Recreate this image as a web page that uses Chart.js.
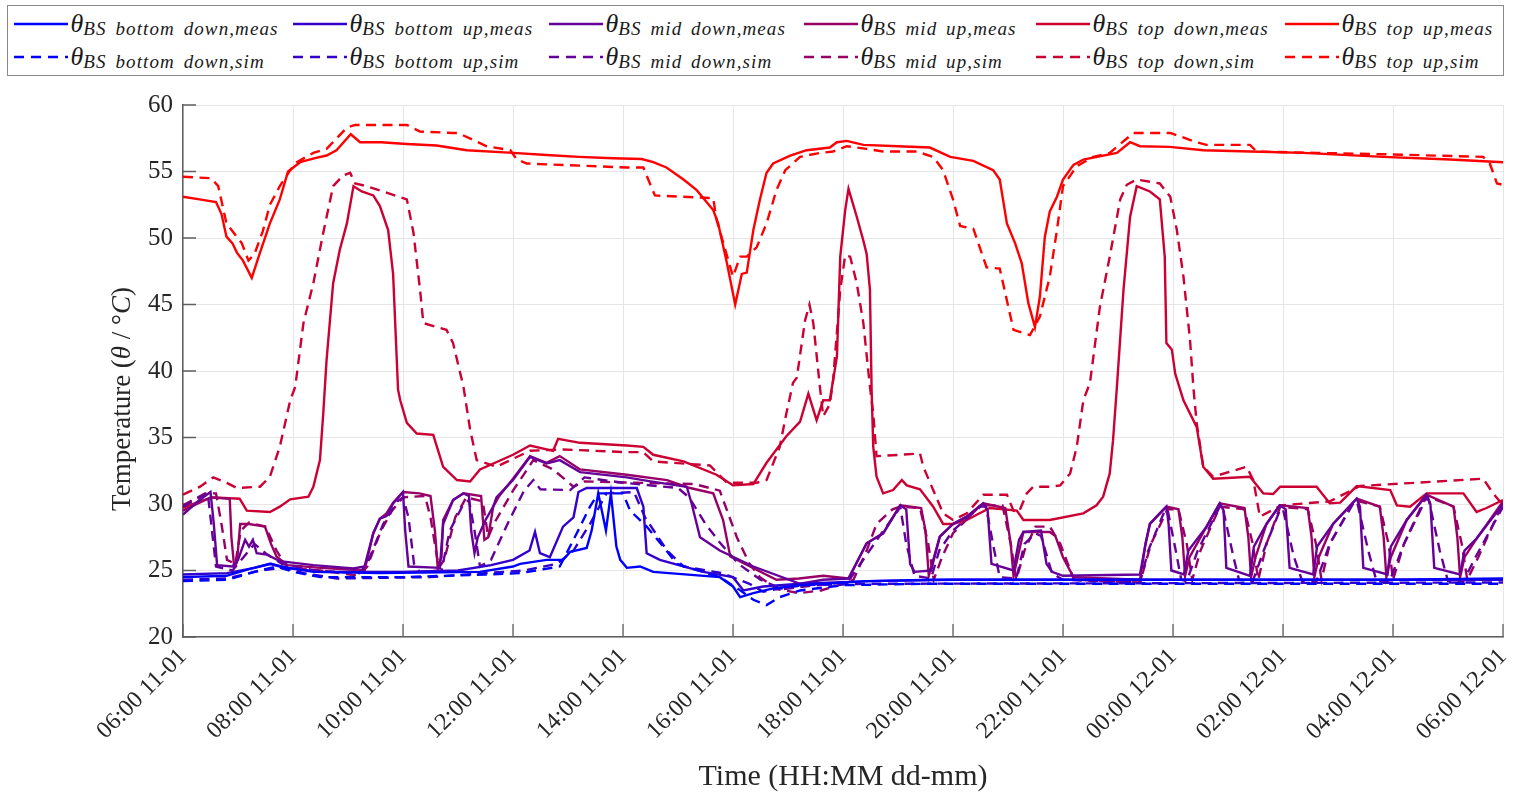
<!DOCTYPE html>
<html>
<head>
<meta charset="utf-8">
<script src="https://cdn.jsdelivr.net/npm/chart.js@4.4.0/dist/chart.umd.min.js"></script>
<style>
  html, body { margin: 0; padding: 0; background: #fff; }
  #wrap { position: relative; width: 1521px; height: 795px; overflow: hidden; }
  #chart { position: absolute; left: 0; top: 0; }
  #legend { position: absolute; left: 7px; top: 5px; width: 1497px; height: 71px; border: 1.5px solid #8a8a8a; box-sizing: border-box; background: #fff; }
  .item { position: absolute; display: flex; align-items: center; height: 30px; font-family: "Liberation Serif", serif; font-style: italic; white-space: nowrap; color: #1a1a1a; }
  .item svg { margin-right: 3px; }
  .th { font-size: 26px; }
  .sub { font-size: 19px; position: relative; top: 5px; letter-spacing: 1.1px; word-spacing: 3px; }
</style>
</head>
<body>
<div id="wrap">
  <canvas id="chart" width="1521" height="795"></canvas>
  <div id="legend"></div>
</div>
<script>
// hours after 06:00 11-01, temperatures in °C
const xLabels = ["06:00 11-01","08:00 11-01","10:00 11-01","12:00 11-01","14:00 11-01","16:00 11-01",
  "18:00 11-01","20:00 11-01","22:00 11-01","00:00 12-01","02:00 12-01","04:00 12-01","06:00 12-01"];
const yTicks = [20, 25, 30, 35, 40, 45, 50, 55, 60];

const bottomDownMeas = [[0,24.5],[0.79,24.6],[1.2,25.1],[1.58,25.5],[1.76,25.3],[2.37,24.9],[3.58,24.8],[5.4,24.9],[6.0,25.3],[6.13,25.5],[6.61,25.8],[6.91,25.8],[7.04,26.4],[7.34,26.7],[7.43,28.0],[7.55,30.8],[7.69,28.0],[7.78,30.8],[7.88,26.8],[7.95,25.8],[8.07,25.2],[8.31,25.3],[8.55,24.9],[9.76,24.5],[10.0,23.8],[10.13,23.0],[10.37,23.3],[10.73,23.65],[11.22,23.9],[12.43,24.2],[13.64,24.3],[15.76,24.3],[18,24.3],[20,24.3],[22,24.3],[24,24.4]];
const bottomUpMeas = [[0,24.7],[0.8,24.8],[1.3,25.2],[1.6,25.5],[1.9,25.2],[2.5,24.9],[4.0,24.9],[5.0,25.0],[5.6,25.4],[6.0,25.8],[6.3,26.5],[6.4,27.9],[6.49,26.3],[6.67,26.0],[6.91,28.3],[7.1,29.0],[7.19,30.9],[7.34,31.2],[8.25,31.2],[8.37,29.8],[8.43,26.3],[8.67,25.8],[9.46,24.9],[10.0,24.5],[10.19,23.5],[10.55,23.8],[11.22,24.0],[12.5,24.2],[14.0,24.3],[24,24.3]];
const midDownMeas = [[0,29.2],[0.3,30.3],[0.5,30.9],[0.56,28.5],[0.62,25.4],[0.9,25.3],[1.0,25.8],[1.13,27.3],[1.2,26.8],[1.27,27.3],[1.34,26.3],[1.52,26.2],[1.76,25.7],[2.37,25.4],[3.1,25.15],[3.3,25.3],[3.46,27.8],[3.58,28.9],[3.7,29.1],[3.82,30.05],[4.0,30.9],[4.04,28.0],[4.1,25.3],[4.67,25.2],[4.73,28.5],[4.91,30.3],[5.1,30.8],[5.2,30.6],[5.24,28.0],[5.3,26.3],[5.36,27.5],[5.5,28.8],[5.64,29.8],[5.7,30.5],[6.0,31.8],[6.31,33.55],[6.61,33.05],[6.85,33.3],[7.22,32.4],[8.07,32.0],[8.5,31.7],[9.16,31.3],[9.25,30.0],[9.4,27.5],[9.76,26.5],[10.37,25.3],[11.22,24.0],[11.64,24.3],[12.1,24.4],[12.43,27.05],[12.73,27.8],[13.04,29.9],[13.15,29.6],[13.22,25.5],[13.3,24.9],[13.6,25.0],[13.76,27.55],[14.0,28.5],[14.25,29.05],[14.55,30.05],[14.63,29.5],[14.7,25.5],[15.1,25.0],[15.2,27.3],[15.28,27.9],[15.6,28.0],[15.7,25.5],[15.8,24.9],[16.0,24.6],[17.4,24.7],[17.5,27.0],[17.58,28.5],[17.76,29.3],[17.88,29.8],[17.92,28.5],[17.97,25.0],[18.2,24.7],[18.28,26.5],[18.61,28.3],[18.85,30.05],[18.92,29.5],[18.97,25.2],[19.4,24.6],[19.47,26.8],[19.7,28.5],[19.94,29.9],[20.05,29.6],[20.12,25.2],[20.55,24.7],[20.62,26.8],[20.91,28.5],[21.34,30.4],[21.4,29.8],[21.46,25.2],[21.9,24.7],[21.96,26.8],[22.25,28.8],[22.61,30.7],[22.68,30.0],[22.75,25.2],[23.22,24.7],[23.3,26.5],[23.52,27.4],[24,30.0]];
const midUpMeas = [[0,29.5],[0.3,30.1],[0.5,30.5],[0.85,30.4],[0.88,27.5],[0.93,25.3],[0.98,25.6],[1.04,28.5],[1.2,28.5],[1.49,28.3],[1.6,27.0],[1.7,26.05],[1.9,25.4],[2.5,25.2],[3.3,25.0],[3.46,27.8],[3.58,28.9],[3.7,29.3],[3.82,30.1],[4.0,30.9],[4.3,30.8],[4.5,30.6],[4.58,28.0],[4.63,25.3],[4.7,26.0],[4.73,28.8],[4.91,30.3],[5.1,30.8],[5.42,30.6],[5.48,27.3],[5.55,27.5],[5.64,29.8],[5.75,30.6],[6.0,31.9],[6.31,33.6],[6.61,33.1],[6.85,33.6],[7.22,32.6],[8.07,32.2],[8.8,31.8],[9.22,31.2],[9.64,30.8],[9.82,28.8],[9.95,26.05],[10.31,25.3],[10.79,24.3],[11.2,24.4],[11.64,24.6],[12.1,24.4],[12.43,27.05],[12.73,27.8],[13.04,29.9],[13.42,29.7],[13.5,28.0],[13.56,24.6],[13.6,25.2],[13.76,27.55],[14.0,28.5],[14.25,29.05],[14.55,30.05],[14.95,29.7],[15.05,27.0],[15.1,24.6],[15.15,25.5],[15.28,27.9],[15.76,27.9],[15.86,27.6],[16.0,26.0],[16.19,24.5],[17.4,24.3],[17.5,27.0],[17.58,28.5],[17.76,29.3],[17.88,29.8],[18.1,29.6],[18.17,27.5],[18.22,24.6],[18.3,26.0],[18.61,28.3],[18.85,30.05],[19.3,29.7],[19.37,27.5],[19.42,24.5],[19.5,26.0],[19.7,28.5],[19.94,29.9],[20.45,29.7],[20.52,27.5],[20.57,24.5],[20.65,26.0],[20.91,28.5],[21.34,30.4],[21.76,29.8],[21.83,27.5],[21.88,24.5],[21.96,26.0],[22.25,28.8],[22.61,30.7],[23.1,29.8],[23.17,27.5],[23.22,24.5],[23.3,26.0],[23.52,27.4],[24,30.2]];
const topDownMeas = [[0,29.7],[0.3,30.2],[0.55,30.5],[1.03,30.4],[1.16,29.5],[1.58,29.4],[1.76,29.8],[1.95,30.35],[2.28,30.55],[2.37,31.3],[2.49,33.3],[2.55,36.8],[2.61,40.8],[2.73,46.6],[2.85,49.1],[2.98,51.1],[3.1,53.9],[3.25,53.5],[3.46,53.2],[3.58,52.4],[3.73,50.6],[3.82,47.3],[3.91,38.6],[3.95,37.8],[4.07,36.1],[4.25,35.3],[4.55,35.2],[4.73,32.8],[4.98,31.8],[5.22,31.7],[5.4,32.6],[6.0,33.7],[6.31,34.4],[6.73,34.0],[6.82,34.9],[7.22,34.6],[8.07,34.4],[8.37,34.3],[8.55,33.7],[9.1,33.2],[9.7,32.2],[10.0,31.4],[10.37,31.5],[10.61,33.1],[10.97,35.1],[11.22,36.2],[11.37,38.3],[11.52,36.3],[11.64,37.8],[11.76,37.8],[11.82,39.3],[11.89,41.1],[11.95,48.6],[12.04,52.1],[12.1,53.7],[12.25,51.6],[12.37,49.8],[12.43,48.8],[12.49,46.1],[12.52,38.6],[12.55,34.3],[12.61,32.05],[12.73,30.8],[12.91,31.05],[13.07,31.8],[13.16,31.4],[13.4,31.1],[13.64,29.8],[13.82,28.5],[14.0,28.5],[14.25,28.8],[14.67,29.7],[15.16,29.5],[15.28,28.8],[15.76,28.8],[16.37,29.3],[16.61,29.9],[16.73,30.55],[16.85,32.3],[16.91,34.8],[16.98,38.8],[17.1,46.1],[17.22,51.6],[17.34,53.9],[17.58,53.5],[17.76,52.9],[17.85,48.6],[17.88,42.1],[17.98,41.6],[18.04,39.8],[18.19,37.8],[18.43,35.8],[18.55,32.8],[18.73,31.9],[19.4,32.05],[19.64,30.8],[19.82,30.75],[19.95,31.3],[20.61,31.3],[20.85,30.05],[21.04,30.1],[21.34,31.35],[21.95,31.05],[22.07,29.9],[22.31,29.8],[22.61,30.8],[23.28,30.8],[23.52,29.4],[23.7,29.7],[24,30.3]];
const topUpMeas = [[0,53.1],[0.3,52.9],[0.6,52.7],[0.7,51.8],[0.79,50.1],[0.9,49.6],[0.98,48.9],[1.09,48.3],[1.25,47.0],[1.4,48.9],[1.58,51.1],[1.76,52.9],[1.91,55.0],[2.13,55.7],[2.4,56.0],[2.61,56.2],[2.79,56.6],[3.05,57.8],[3.22,57.2],[3.6,57.2],[4.07,57.07],[4.61,56.95],[5.16,56.6],[6.0,56.4],[6.61,56.24],[7.2,56.1],[7.82,56.0],[8.34,55.94],[8.55,55.7],[8.79,55.3],[9.1,54.4],[9.34,53.6],[9.64,52.1],[9.73,51.1],[9.89,48.1],[10.04,45.0],[10.16,47.3],[10.25,47.4],[10.37,50.6],[10.49,52.9],[10.61,54.9],[10.73,55.6],[11.04,56.2],[11.34,56.6],[11.76,56.8],[11.89,57.2],[12.07,57.3],[12.37,57.0],[13.0,56.9],[13.58,56.8],[13.95,56.1],[14.37,55.8],[14.73,55.1],[14.85,54.4],[14.98,51.1],[15.13,49.6],[15.25,48.1],[15.37,45.1],[15.49,43.3],[15.58,45.6],[15.67,50.1],[15.76,52.0],[15.89,53.1],[16.0,54.4],[16.19,55.5],[16.37,55.9],[16.98,56.4],[17.22,57.2],[17.4,56.9],[17.94,56.85],[18.55,56.6],[19.4,56.5],[20.37,56.4],[21.82,56.1],[23.04,55.9],[24,55.7]];

const bottomDownSim = [[0,24.2],[0.8,24.3],[1.3,24.9],[1.7,25.3],[2.0,24.9],[2.5,24.5],[4.0,24.5],[5.5,24.7],[6.13,24.8],[6.85,25.3],[7.16,27.8],[7.4,29.8],[7.55,30.8],[8.0,30.8],[8.13,29.5],[8.43,28.3],[8.73,26.8],[8.98,25.5],[9.76,24.5],[10.1,23.6],[10.37,22.8],[10.61,22.4],[10.85,23.0],[11.22,23.5],[12.0,23.9],[13.5,24.0],[24,24.0]];
const bottomUpSim = [[0,24.3],[0.8,24.4],[1.4,25.0],[1.8,25.2],[2.2,24.8],[2.8,24.4],[4.5,24.5],[5.5,24.8],[6.2,25.0],[6.8,25.5],[7.1,26.5],[7.4,28.5],[7.7,30.8],[8.2,30.9],[8.4,29.0],[8.8,26.5],[9.1,25.3],[9.8,24.8],[10.3,24.0],[10.55,23.4],[10.8,23.6],[11.3,23.9],[12.5,24.0],[24,24.1]];
const midDownSim = [[0,29.8],[0.3,30.5],[0.45,30.8],[0.5,29.0],[0.6,25.3],[0.9,25.0],[1.1,26.0],[1.3,27.0],[1.5,26.3],[1.8,25.5],[2.4,25.0],[3.2,24.8],[3.35,25.5],[3.64,28.5],[3.9,30.2],[4.0,30.5],[4.1,29.0],[4.2,25.5],[4.3,24.9],[4.7,25.0],[4.85,28.0],[5.1,30.0],[5.2,30.3],[5.3,28.0],[5.4,25.3],[5.6,25.8],[5.9,28.5],[6.2,31.0],[6.37,31.8],[6.5,31.1],[7.04,31.05],[7.3,32.0],[8.0,31.6],[9.0,31.2],[9.2,30.5],[9.5,28.5],[9.76,27.1],[10.1,25.5],[10.5,24.3],[10.9,23.6],[11.3,23.8],[11.8,24.0],[12.1,24.2],[12.4,26.0],[12.7,27.8],[13.0,29.5],[13.04,29.8],[13.15,27.0],[13.3,24.6],[13.6,24.4],[13.75,26.5],[14.0,28.0],[14.5,29.8],[14.6,29.8],[14.75,26.5],[14.85,24.5],[15.15,24.4],[15.3,27.0],[15.5,27.8],[15.6,27.6],[15.8,24.8],[16.0,24.3],[17.4,24.1],[17.55,26.5],[17.85,29.5],[17.9,29.6],[18.05,26.5],[18.15,24.3],[18.25,24.2],[18.45,26.5],[18.85,29.8],[18.9,29.8],[19.1,26.0],[19.2,24.3],[19.45,24.2],[19.65,26.5],[19.95,29.6],[20.0,29.6],[20.2,26.0],[20.35,24.2],[20.6,24.1],[20.85,27.0],[21.3,30.2],[21.35,30.1],[21.55,26.5],[21.7,24.2],[21.93,24.1],[22.2,27.0],[22.6,30.4],[22.65,30.3],[22.85,26.5],[23.0,24.2],[23.27,24.1],[23.5,26.0],[24,29.8]];
const midUpSim = [[0,29.9],[0.4,30.8],[0.6,30.8],[0.7,28.5],[0.8,25.8],[0.95,25.5],[1.05,28.0],[1.2,28.6],[1.5,28.3],[1.7,26.5],[1.9,25.2],[2.5,25.0],[3.2,24.6],[3.35,25.3],[3.6,28.0],[3.8,29.5],[4.0,30.5],[4.4,30.6],[4.5,29.0],[4.65,25.2],[4.75,25.8],[4.95,29.0],[5.15,30.5],[5.45,30.2],[5.55,27.5],[5.65,28.5],[6.0,31.0],[6.37,33.3],[6.73,32.6],[7.1,31.3],[7.3,31.7],[8.2,31.6],[9.3,31.5],[9.76,31.0],[10.07,27.5],[10.3,25.5],[10.49,24.5],[10.8,23.6],[11.2,23.3],[11.6,23.5],[12.0,24.0],[12.19,24.3],[12.43,26.5],[12.61,28.5],[12.9,29.6],[13.04,29.8],[13.4,29.7],[13.55,27.0],[13.65,24.3],[13.8,26.0],[14.0,27.8],[14.5,29.9],[14.9,29.9],[15.05,27.0],[15.15,24.3],[15.3,26.5],[15.5,28.3],[15.76,28.3],[15.95,27.0],[16.2,24.3],[17.4,24.1],[17.6,27.0],[17.9,29.6],[18.1,29.6],[18.25,27.0],[18.35,24.3],[18.5,26.5],[18.85,29.8],[19.3,29.6],[19.45,27.0],[19.55,24.3],[19.7,27.0],[19.95,29.8],[20.45,29.6],[20.6,27.0],[20.7,24.3],[20.85,27.0],[21.3,30.3],[21.76,29.8],[21.92,27.0],[22.0,24.3],[22.2,27.0],[22.6,30.6],[23.1,29.8],[23.25,27.0],[23.35,24.3],[23.55,26.0],[24,30.1]];
const topDownSim = [[0,30.7],[0.31,31.3],[0.55,32.0],[0.79,31.6],[0.98,31.2],[1.4,31.3],[1.58,32.05],[1.76,34.3],[1.95,37.8],[2.04,38.8],[2.19,43.6],[2.37,46.6],[2.55,50.4],[2.73,53.9],[2.91,54.7],[3.04,54.9],[3.13,54.1],[3.34,53.9],[4.07,52.9],[4.19,50.4],[4.31,46.1],[4.37,43.6],[4.79,43.1],[4.91,42.1],[5.1,38.8],[5.22,35.6],[5.34,33.3],[5.7,32.8],[6.0,33.4],[6.31,34.0],[6.91,34.1],[8.07,33.9],[8.37,33.9],[8.55,33.2],[9.58,32.9],[9.89,31.6],[10.43,31.6],[10.61,31.8],[10.85,34.3],[10.97,36.8],[11.09,39.1],[11.16,39.5],[11.31,43.8],[11.39,45.0],[11.46,43.6],[11.58,38.8],[11.64,36.6],[11.76,37.5],[11.82,39.3],[11.95,46.1],[12.04,48.7],[12.13,48.6],[12.25,46.6],[12.37,43.6],[12.49,38.8],[12.55,36.8],[12.61,33.6],[13.04,33.7],[13.4,33.8],[13.46,32.8],[13.64,31.05],[13.82,29.3],[14.0,28.8],[14.25,29.3],[14.55,30.7],[14.98,30.7],[15.1,29.5],[15.2,29.4],[15.34,30.8],[15.46,31.3],[15.76,31.3],[15.95,31.4],[16.13,32.3],[16.25,34.3],[16.37,37.8],[16.49,39.1],[16.67,44.8],[16.85,48.6],[17.04,52.9],[17.16,54.0],[17.34,54.4],[17.76,54.1],[17.95,53.1],[18.07,50.6],[18.19,47.1],[18.31,42.3],[18.37,38.8],[18.43,36.1],[18.55,32.8],[18.73,32.05],[19.34,32.8],[19.46,31.8],[19.58,29.05],[19.97,29.9],[20.85,30.2],[21.4,31.35],[23.64,31.9],[23.82,30.8],[23.94,30.2],[24,30.1]];
const topUpSim = [[0,54.6],[0.51,54.5],[0.64,53.9],[0.79,51.1],[1.07,49.6],[1.19,48.3],[1.3,48.8],[1.45,50.5],[1.58,52.5],[1.76,53.9],[1.95,55.1],[2.07,55.7],[2.37,56.4],[2.61,56.7],[2.98,58.3],[3.13,58.5],[4.07,58.5],[4.31,58.0],[4.91,57.9],[5.0,57.9],[5.52,56.9],[5.95,56.6],[6.07,55.9],[6.25,55.6],[8.07,55.3],[8.37,55.3],[8.58,53.2],[9.64,53.0],[9.7,51.4],[10.0,47.1],[10.13,48.6],[10.25,48.6],[10.43,49.3],[10.61,51.1],[10.79,53.6],[10.95,55.1],[11.22,56.1],[11.58,56.4],[11.82,56.5],[12.07,56.9],[12.43,56.7],[12.73,56.5],[13.34,56.5],[13.64,56.1],[13.82,55.1],[14.0,52.9],[14.13,50.9],[14.37,50.7],[14.61,47.8],[14.85,47.7],[15.1,43.1],[15.4,42.7],[15.58,44.1],[15.76,47.1],[15.89,50.6],[16.0,53.9],[16.25,55.4],[16.55,56.1],[16.85,56.4],[17.28,57.9],[17.95,57.9],[18.43,57.2],[18.61,57.0],[19.4,57.0],[19.52,56.5],[20.61,56.4],[21.82,56.3],[23.64,56.1],[23.76,55.6],[23.89,54.1],[24,54.0]];

const positions = ["bottom down", "bottom up", "mid down", "mid up", "top down", "top up"];
const colors = ["rgb(0,0,255)", "rgb(51,0,204)", "rgb(102,0,153)", "rgb(153,0,102)", "rgb(204,0,51)", "rgb(255,0,0)"];
const measSeries = [bottomDownMeas, bottomUpMeas, midDownMeas, midUpMeas, topDownMeas, topUpMeas];
const simSeries  = [bottomDownSim, bottomUpSim, midDownSim, midUpSim, topDownSim, topUpSim];

const FONT = "'Liberation Serif', 'Times New Roman', serif";
Chart.defaults.font.family = FONT;
Chart.defaults.color = "#262626";
const DASH = [10, 6.5];
const toXY = arr => arr.map(p => ({ x: p[0], y: p[1] }));

const datasets = [];
positions.forEach((pos, i) => {
  datasets.push({ label: `θBS ${pos},meas`, data: toXY(measSeries[i]), borderColor: colors[i],
    borderWidth: 2.4, pointRadius: 0, tension: 0, fill: false });
  datasets.push({ label: `θBS ${pos},sim`, data: toXY(simSeries[i]), borderColor: colors[i],
    borderWidth: 2.4, borderDash: DASH, pointRadius: 0, tension: 0, fill: false });
});

// legend: two rows, meas on top, sim below
const legendX = [14, 293, 549, 804, 1036, 1285];
const legend = document.getElementById("legend");
["meas", "sim"].forEach((kind, row) => {
  positions.forEach((pos, i) => {
    const d = document.createElement("div");
    d.className = "item";
    d.style.left = (legendX[i] - 8.5) + "px";
    d.style.top = (row === 0 ? 2.5 : 36) + "px";
    const dash = kind === "sim" ? 'stroke-dasharray="10,7"' : "";
    d.innerHTML = `<svg width="54" height="10"><line x1="0" y1="5" x2="54" y2="5" stroke="${colors[i]}" stroke-width="2.4" ${dash}/></svg>` +
      `<span class="th">θ</span><span class="sub">BS ${pos},${kind}</span>`;
    legend.appendChild(d);
  });
});

const yTitleParts = [["Temperature (", ""], ["θ", "italic "], [" / °", ""], ["C", "italic "], [")", ""]];

const axisDecor = {
  id: "axisDecor",
  beforeDatasetsDraw(chart) {
    const { ctx, chartArea: a, scales: { x, y } } = chart;
    ctx.save();
    ctx.strokeStyle = "#5f5f5f";
    ctx.lineWidth = 1.3;
    ctx.beginPath();
    x.ticks.forEach(t => { const px = x.getPixelForValue(t.value); ctx.moveTo(px, a.bottom); ctx.lineTo(px, a.bottom - 13); });
    y.ticks.forEach(t => { const py = y.getPixelForValue(t.value); ctx.moveTo(a.left, py); ctx.lineTo(a.left + 13, py); });
    ctx.stroke();
    ctx.restore();
  },
  afterDraw(chart) {
    const { ctx, chartArea: a } = chart;
    ctx.save();
    ctx.fillStyle = "#262626";
    ctx.translate(123, (a.top + a.bottom) / 2 + 28);
    ctx.rotate(-Math.PI / 2);
    ctx.textBaseline = "middle";
    let total = 0;
    yTitleParts.forEach(([t, st]) => { ctx.font = `${st}27px ${FONT}`; total += ctx.measureText(t).width; });
    let cx = -total / 2;
    yTitleParts.forEach(([t, st]) => { ctx.font = `${st}27px ${FONT}`; ctx.fillText(t, cx, 0); cx += ctx.measureText(t).width; });
    ctx.restore();
  }
};

new Chart(document.getElementById("chart"), {
  type: "line",
  data: { datasets },
  options: {
    responsive: false,
    animation: false,
    layout: { padding: { top: 105, right: 18, left: 0, bottom: 0 } },
    plugins: { legend: { display: false }, tooltip: { enabled: false } },
    scales: {
      x: {
        type: "linear", min: 0, max: 24,
        afterBuildTicks: s => { s.ticks = xLabels.map((_, i) => ({ value: i * 2 })); },
        ticks: { autoSkip: false, maxRotation: 45, minRotation: 45, padding: 6,
          callback: (v) => xLabels[Math.round(v / 2)],
          font: { family: FONT, size: 24 }, color: "#262626" },
        grid: { color: "#e6e6e6", drawTicks: false, lineWidth: 1 },
        border: { color: "#5f5f5f", width: 1.5 },
        title: { display: true, text: "Time (HH:MM dd-mm)", color: "#262626",
          font: { family: FONT, size: 30 }, padding: { bottom: 0 } },
        afterFit: s => { s.height = 158; s.paddingLeft = 0; s.paddingRight = 0; }
      },
      y: {
        min: 20, max: 60,
        afterBuildTicks: s => { s.ticks = yTicks.map(v => ({ value: v })); },
        ticks: { padding: 10, font: { family: FONT, size: 25 }, color: "#262626" },
        grid: { color: "#e6e6e6", drawTicks: false, lineWidth: 1 },
        border: { color: "#5f5f5f", width: 1.5 },
        afterFit: s => { s.width = 183; }
      }
    }
  },
  plugins: [axisDecor]
});
</script>
</body>
</html>
